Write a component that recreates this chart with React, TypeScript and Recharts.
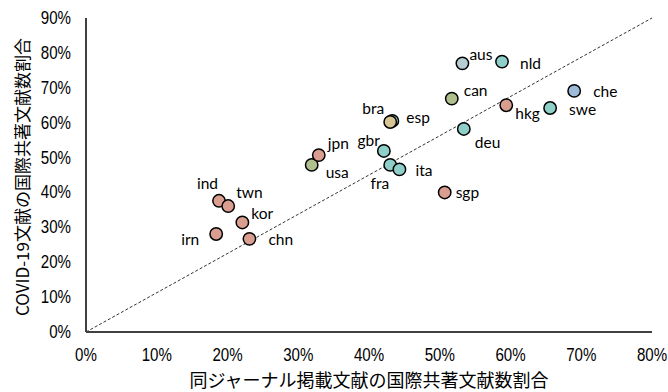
import React from "react";
import {
  ScatterChart,
  Scatter,
  XAxis,
  YAxis,
  ReferenceLine,
} from "recharts";

// country codes, shares of international co-authored papers
const countries = [
  "aus", "nld", "can", "che", "hkg", "swe", "esp", "bra", "deu", "gbr",
  "usa", "jpn", "fra", "ita", "sgp", "ind", "twn", "kor", "irn", "chn",
];
// same journals, all papers (x)
const journalShare = [
  0.532, 0.588, 0.517, 0.69, 0.594, 0.656, 0.433, 0.43, 0.534, 0.421,
  0.319, 0.329, 0.43, 0.443, 0.507, 0.188, 0.201, 0.221, 0.184, 0.231,
];
// COVID-19 papers (y)
const covidShare = [
  0.77, 0.775, 0.669, 0.691, 0.65, 0.642, 0.605, 0.602, 0.582, 0.519,
  0.479, 0.507, 0.479, 0.466, 0.4, 0.376, 0.361, 0.314, 0.281, 0.267,
];
const groups = [
  "oceania", "europe", "america", "swiss", "asia", "europe", "europe", "latam", "europe", "europe",
  "america", "asia", "europe", "europe", "asia", "asia", "asia", "asia", "asia", "asia",
];

const xTicks = [0, 0.1, 0.2, 0.3, 0.4, 0.5, 0.6, 0.7, 0.8];
const yTicks = [0, 0.1, 0.2, 0.3, 0.4, 0.5, 0.6, 0.7, 0.8, 0.9];
const diagX = [0, 0.8];
const diagY = [0, 0.9];

const xTitle = "同ジャーナル掲載文献の国際共著文献数割合";
const yTitle = "COVID-19文献の国際共著文献数割合";

const groupColors: Record<string, string> = {
  asia: "#DA9E90",
  america: "#AFC08E",
  europe: "#8FCFC9",
  oceania: "#B5CDD3",
  swiss: "#9DBBD8",
  latam: "#D8C596",
};

// label placement relative to the marker: [dx, dy, anchor]
const labelPos: Record<string, [number, number, string]> = {
  aus: [7, -9, "start"],
  nld: [18, 1, "start"],
  can: [12, -9, "start"],
  che: [19, 0, "start"],
  hkg: [9, 8, "start"],
  swe: [19, 1, "start"],
  esp: [14, -4, "start"],
  bra: [-6, -14, "end"],
  deu: [11, 13, "start"],
  gbr: [-4, -11, "end"],
  jpn: [9, -12, "start"],
  usa: [14, 7, "start"],
  fra: [-1, 18, "end"],
  ita: [16, 1, "start"],
  sgp: [11, 0, "start"],
  ind: [-1, -18, "end"],
  twn: [8, -14, "start"],
  kor: [9, -9, "start"],
  irn: [-17, 5, "end"],
  chn: [19, 0, "start"],
};

const data = countries.map((c, i) => ({
  name: c,
  x: journalShare[i],
  y: covidShare[i],
  group: groups[i],
}));

const pct = (v: number) => `${Math.round(v * 100)}%`;

// narrow gothic-looking tick labels
const NarrowTick = (props: any) => {
  const { x, y, payload, textAnchor, side } = props;
  const ty = side === "bottom" ? y + 11 : y;
  return (
    <text
      transform={`translate(${x},${ty}) scale(0.84,1)`}
      textAnchor={textAnchor}
      dominantBaseline="central"
      fontFamily="'Liberation Sans', Arial, sans-serif"
      fontSize={18}
      fill="#000"
    >
      {pct(payload.value)}
    </text>
  );
};

const Dot = (props: any) => {
  const { cx, cy, payload } = props;
  const [dx, dy, anchor] = labelPos[payload.name];
  return (
    <g>
      <circle
        cx={cx}
        cy={cy}
        r={6.2}
        fill={groupColors[payload.group]}
        stroke="#000"
        strokeWidth={1.5}
      />
      <text
        x={cx + dx}
        y={cy + dy}
        textAnchor={anchor as any}
        dominantBaseline="central"
        fontFamily="Lato, 'Open Sans', sans-serif"
        fontSize={15.5}
        fill="#000"
      >
        {payload.name}
      </text>
    </g>
  );
};

const YTitle = (props: any) => {
  const { x, y, height } = props.viewBox;
  const cx = x + 21;
  const cy = y + height / 2 + 2;
  return (
    <text
      x={cx}
      y={cy}
      transform={`rotate(-90 ${cx} ${cy})`}
      textAnchor="middle"
      dominantBaseline="central"
      fontFamily="'Noto Sans CJK JP', sans-serif"
      fontSize={17}
      fill="#000"
    >
      {yTitle}
    </text>
  );
};

const XTitle = (props: any) => {
  const { x, y, width } = props.viewBox;
  return (
    <text
      x={x + width / 2}
      y={y + 47}
      textAnchor="middle"
      dominantBaseline="central"
      fontFamily="'Noto Sans CJK JP', sans-serif"
      fontSize={18}
      fill="#000"
    >
      {xTitle}
    </text>
  );
};

export default function App() {
  return (
    <div style={{ position: "absolute", left: 0, top: 0, background: "#fff" }}>
      <ScatterChart
        width={668}
        height={392}
        margin={{ top: 18, right: 16, bottom: 0, left: 0 }}
      >
        <XAxis
          type="number"
          dataKey="x"
          domain={[0, 0.8]}
          ticks={xTicks}
          tickLine={false}
          tickSize={8}
          tickMargin={4}
          height={60}
          axisLine={{ stroke: "#404040", strokeWidth: 2 }}
          tick={<NarrowTick side="bottom" />}
          allowDataOverflow
          label={<XTitle />}
        />
        <YAxis
          type="number"
          dataKey="y"
          domain={[0, 0.9]}
          ticks={yTicks}
          tickLine={false}
          tickSize={8}
          tickMargin={7}
          width={86}
          axisLine={{ stroke: "#404040", strokeWidth: 2 }}
          tick={<NarrowTick side="left" />}
          allowDataOverflow
          label={<YTitle />}
        />
        <ReferenceLine
          segment={[
            { x: diagX[0], y: diagY[0] },
            { x: diagX[1], y: diagY[1] },
          ]}
          stroke="#333"
          strokeWidth={1}
          strokeDasharray="3 2"
          ifOverflow="visible"
        />
        <Scatter data={data} shape={<Dot />} isAnimationActive={false} />
      </ScatterChart>
    </div>
  );
}
